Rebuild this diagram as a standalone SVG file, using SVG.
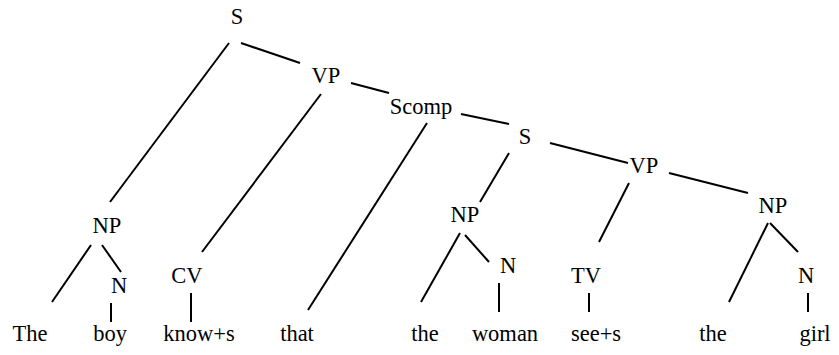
<svg xmlns="http://www.w3.org/2000/svg" width="839" height="355" viewBox="0 0 839 355">
<style>
line{stroke:#000;stroke-width:2;stroke-linecap:butt}
</style>
<rect width="839" height="355" fill="#fff"/>
<g id="connectors">
<line x1="229" y1="43" x2="110" y2="202"/>
<line x1="241" y1="43" x2="300" y2="63"/>
<line x1="351" y1="83" x2="389" y2="93"/>
<line x1="321" y1="94" x2="202" y2="252"/>
<line x1="461" y1="114" x2="509" y2="124"/>
<line x1="427" y1="123" x2="308" y2="310"/>
<line x1="550" y1="143" x2="628" y2="163"/>
<line x1="509" y1="153" x2="480" y2="202"/>
<line x1="669" y1="173" x2="748" y2="193"/>
<line x1="629" y1="183" x2="599" y2="242"/>
<line x1="91" y1="245" x2="52" y2="302"/>
<line x1="102" y1="245" x2="121" y2="272"/>
<line x1="111" y1="303" x2="111" y2="322"/>
<line x1="191" y1="293" x2="191" y2="322"/>
<line x1="460" y1="233" x2="421" y2="302"/>
<line x1="465" y1="235" x2="489" y2="262"/>
<line x1="499" y1="283" x2="499" y2="312"/>
<line x1="589" y1="293" x2="589" y2="312"/>
<line x1="768" y1="223" x2="729" y2="302"/>
<line x1="770" y1="223" x2="798" y2="252"/>
<line x1="808" y1="293" x2="808" y2="312"/>
</g>
<g font-family="'Liberation Serif', 'Times New Roman', serif" font-size="22.5" fill="#000" text-anchor="middle">
<g id="S"><text x="237" y="24">S</text></g>
<g id="VP"><text x="326" y="83">VP</text></g>
<g id="Scomp"><text x="421" y="114">Scomp</text></g>
<g id="S2"><text x="525" y="144">S</text></g>
<g id="VP2"><text x="644" y="173">VP</text></g>
<g id="NP3"><text x="773" y="213">NP</text></g>
<g id="NP2"><text x="465" y="222">NP</text></g>
<g id="NP1"><text x="107" y="233">NP</text></g>
<g id="CV"><text x="187" y="283">CV</text></g>
<g id="N1"><text x="119" y="293">N</text></g>
<g id="N2"><text x="508" y="273">N</text></g>
<g id="TV"><text x="586" y="283">TV</text></g>
<g id="N3"><text x="806" y="283">N</text></g>
<g id="w-The"><text x="30" y="341">The</text></g>
<g id="w-boy"><text x="110" y="341">boy</text></g>
<g id="w-know"><text x="199" y="341">know+s</text></g>
<g id="w-that"><text x="297" y="341">that</text></g>
<g id="w-the1"><text x="425" y="341">the</text></g>
<g id="w-woman"><text x="505" y="341">woman</text></g>
<g id="w-sees"><text x="596" y="341">see+s</text></g>
<g id="w-the2"><text x="713" y="341">the</text></g>
<g id="w-girl"><text x="815" y="341">girl</text></g>
</g>
</svg>
